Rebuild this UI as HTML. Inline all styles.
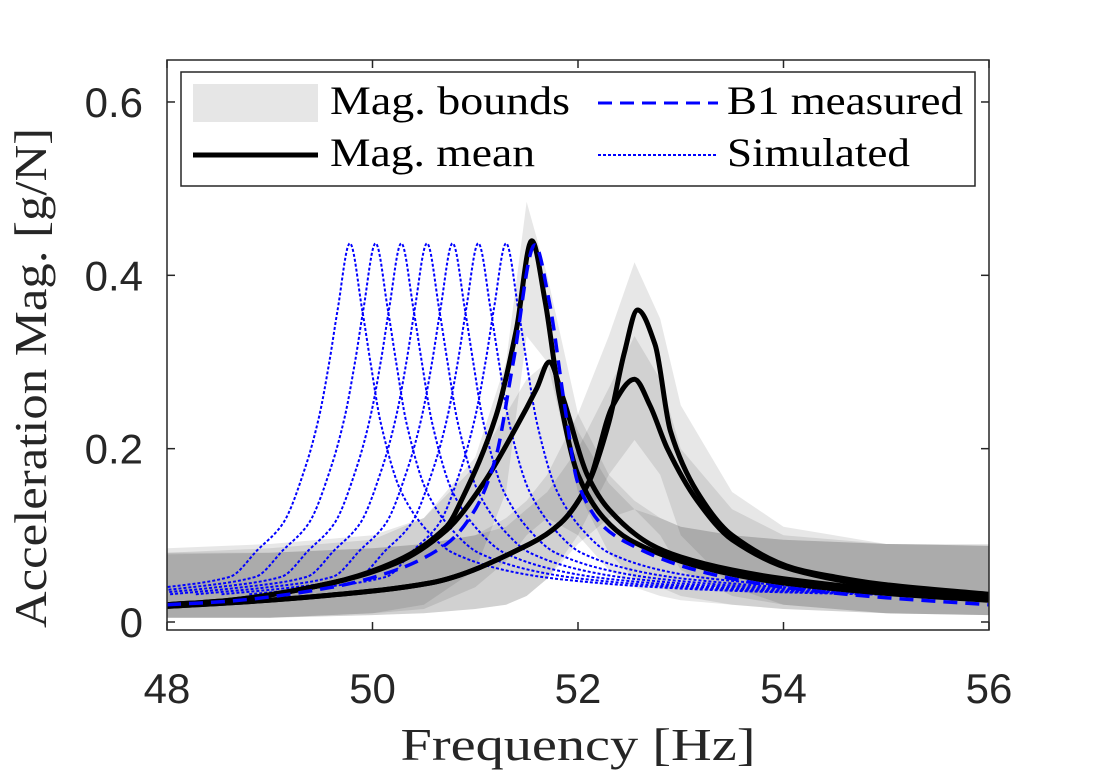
<!DOCTYPE html>
<html><head><meta charset="utf-8"><style>
body{margin:0;background:#fff}
svg{display:block}
</style></head><body>
<svg id="chart" width="1094" height="781" xmlns="http://www.w3.org/2000/svg">
<defs><clipPath id="plotclip"><rect x="167" y="60" width="822" height="570"/></clipPath></defs>
<rect width="1094" height="781" fill="#fff"/>
<g id="bands" clip-path="url(#plotclip)"></g>
<g id="lines" clip-path="url(#plotclip)"></g>
<g id="axes"></g>
<text x="578" y="760" text-anchor="middle" textLength="355" lengthAdjust="spacingAndGlyphs" font-family="Liberation Serif, serif" font-size="46" fill="#262626">Frequency [Hz]</text>
<text transform="translate(46,378) rotate(-90)" text-anchor="middle" textLength="500" lengthAdjust="spacingAndGlyphs" font-family="Liberation Serif, serif" font-size="46" fill="#262626">Acceleration Mag. [g/N]</text>
<g>
<rect x="181" y="72" width="794" height="114" fill="#fff" stroke="#262626" stroke-width="1.5"/>
<rect x="193" y="84" width="125" height="38" fill="#e6e6e6"/>
<text x="330" y="114" textLength="240" lengthAdjust="spacingAndGlyphs" font-family="Liberation Serif, serif" font-size="40" fill="#000">Mag. bounds</text>
<line x1="193" y1="155" x2="318" y2="155" stroke="#000" stroke-width="5"/>
<text x="330" y="166" textLength="205" lengthAdjust="spacingAndGlyphs" font-family="Liberation Serif, serif" font-size="40" fill="#000">Mag. mean</text>
<line x1="598" y1="103" x2="718" y2="103" stroke="#0000ff" stroke-width="3" stroke-dasharray="14 8"/>
<text x="727" y="114" textLength="236" lengthAdjust="spacingAndGlyphs" font-family="Liberation Serif, serif" font-size="40" fill="#000">B1 measured</text>
<line x1="598" y1="155" x2="718" y2="155" stroke="#0000ff" stroke-width="2" stroke-dasharray="3 2"/>
<text x="727" y="166" textLength="183" lengthAdjust="spacingAndGlyphs" font-family="Liberation Serif, serif" font-size="40" fill="#000">Simulated</text>
</g>
</svg>
<script>
const xTicks=[48,50,52,54,56];
const yTicks=[0,0.2,0.4,0.6];
const yTickLabels=["0","0.2","0.4","0.6"];
const bandFreq=[48,49,50,50.5,51,51.3,51.5,51.7,52,52.3,52.55,52.8,53,53.5,54,55,56];
const bandAUpper=[0.085,0.09,0.1,0.12,0.19,0.3,0.485,0.4,0.24,0.17,0.14,0.12,0.11,0.1,0.095,0.09,0.09];
const bandALower=[0.005,0.005,0.01,0.02,0.06,0.15,0.33,0.3,0.15,0.08,0.05,0.04,0.03,0.02,0.015,0.01,0.008];
const bandBUpper=[0.08,0.085,0.095,0.12,0.18,0.24,0.28,0.3,0.22,0.16,0.13,0.12,0.11,0.1,0.095,0.09,0.088];
const bandBLower=[0.005,0.005,0.01,0.015,0.04,0.07,0.1,0.12,0.1,0.06,0.04,0.03,0.025,0.02,0.015,0.01,0.008];
const bandCUpper=[0.08,0.08,0.085,0.09,0.1,0.12,0.14,0.17,0.24,0.33,0.415,0.35,0.25,0.15,0.11,0.09,0.088];
const bandCLower=[0.005,0.005,0.008,0.01,0.015,0.02,0.03,0.05,0.1,0.17,0.21,0.17,0.1,0.04,0.02,0.01,0.008];
const bandDUpper=[0.078,0.08,0.085,0.09,0.1,0.11,0.13,0.15,0.2,0.27,0.33,0.28,0.2,0.13,0.1,0.09,0.088];
const bandDLower=[0.005,0.005,0.008,0.01,0.015,0.02,0.03,0.05,0.09,0.12,0.13,0.1,0.06,0.03,0.02,0.01,0.008];
const meanAFreq=[48,48.6,49.6,50.23,50.72,50.88,51.2,51.4,51.55,51.68,51.82,52,52.25,52.5,53,53.5,54,55,56];
const meanAVal=[0.02,0.025,0.045,0.07,0.11,0.144,0.237,0.337,0.44,0.37,0.26,0.17,0.12,0.095,0.07,0.055,0.045,0.033,0.025];
const meanBFreq=[48,48.6,49.6,50.23,50.72,51.08,51.4,51.6,51.72,51.85,52.09,52.3,52.7,53,53.5,54,55,56];
const meanBVal=[0.02,0.025,0.045,0.068,0.106,0.16,0.225,0.27,0.30,0.26,0.17,0.13,0.09,0.075,0.06,0.05,0.037,0.03];
const meanCFreq=[48,48.6,49.5,50.56,51.53,51.83,52.1,52.3,52.45,52.58,52.75,52.9,53.16,53.5,54.1,54.5,55,56];
const meanCVal=[0.018,0.022,0.03,0.045,0.09,0.114,0.16,0.23,0.31,0.36,0.32,0.22,0.15,0.1,0.062,0.052,0.043,0.032];
const meanDFreq=[48,48.6,49.5,50.56,51.53,51.83,52.1,52.34,52.55,52.7,52.87,53.16,53.5,54.1,55,56];
const meanDVal=[0.018,0.022,0.03,0.045,0.09,0.114,0.16,0.25,0.28,0.25,0.2,0.14,0.095,0.06,0.04,0.03];
const b1Freq=[48,48.6,49.6,50.23,50.72,51,51.2,51.37,51.58,51.72,51.87,52,52.25,52.5,53,53.5,54,55,56];
const b1Val=[0.02,0.024,0.04,0.06,0.09,0.13,0.19,0.3,0.435,0.37,0.25,0.16,0.11,0.09,0.065,0.05,0.04,0.028,0.02];
const simPeakFreqs=[49.78,50.03,50.28,50.53,50.78,51.03,51.3];
const simOffsets=[-2.5,-1.8,-1.17,-0.9,-0.65,-0.43,-0.3,-0.2,-0.12,0,0.12,0.2,0.3,0.5,0.77,1,1.5,2,3,4,6,8];
const simValues=[0.032,0.04,0.052,0.083,0.114,0.18,0.237,0.3,0.36,0.437,0.36,0.3,0.23,0.15,0.103,0.08,0.06,0.05,0.04,0.035,0.03,0.028];

const NS="http://www.w3.org/2000/svg";
const X0=167,X1=989,Y0=622,YPX=866.7;
function xs(f){return X0+(f-48)*(X1-X0)/8;}
function ys(v){return Y0-v*YPX;}
function mk(tag,attrs,parent){const e=document.createElementNS(NS,tag);for(const k in attrs)e.setAttribute(k,attrs[k]);parent.appendChild(e);return e;}
function spline(px,py){
  const n=px.length,d=[],m=[];
  for(let i=0;i<n-1;i++)d.push((py[i+1]-py[i])/(px[i+1]-px[i]));
  m[0]=d[0];m[n-1]=d[n-2];
  for(let i=1;i<n-1;i++)m[i]=(d[i-1]*d[i]<=0)?0:2/(1/d[i-1]+1/d[i]);
  let s="M"+px[0].toFixed(1)+","+py[0].toFixed(1);
  for(let i=0;i<n-1;i++){const h=px[i+1]-px[i];
    s+="C"+(px[i]+h/3).toFixed(1)+","+(py[i]+m[i]*h/3).toFixed(1)+" "+(px[i+1]-h/3).toFixed(1)+","+(py[i+1]-m[i+1]*h/3).toFixed(1)+" "+px[i+1].toFixed(1)+","+py[i+1].toFixed(1);}
  return s;
}
const bandsG=document.getElementById('bands');
[[bandAUpper,bandALower],[bandBUpper,bandBLower],[bandCUpper,bandCLower],[bandDUpper,bandDLower]].forEach((b,i)=>{
  const up=bandFreq.map((f,j)=>xs(f)+","+ys(b[0][j]).toFixed(1));
  const lo=bandFreq.map((f,j)=>xs(f)+","+ys(b[1][j]).toFixed(1)).reverse();
  const p=mk('polygon',{points:up.concat(lo).join(" "),fill:"#000","fill-opacity":"0.095"},bandsG);
  
  
});
const linesG=document.getElementById('lines');
simPeakFreqs.forEach((pf,i)=>{
  const p=mk('path',{d:spline(simOffsets.map(o=>xs(pf+o)),simValues.map(ys)),fill:"none",stroke:"#0000ff","stroke-width":"2","stroke-dasharray":"3 2"},linesG);
  
  
});
[[meanAFreq,meanAVal],[meanBFreq,meanBVal],[meanCFreq,meanCVal],[meanDFreq,meanDVal]].forEach((c,i)=>{
  const p=mk('path',{d:spline(c[0].map(xs),c[1].map(ys)),fill:"none",stroke:"#000","stroke-width":"5","stroke-linejoin":"round"},linesG);
  
  
});
const b1=mk('path',{d:spline(b1Freq.map(xs),b1Val.map(ys)),fill:"none",stroke:"#0000ff","stroke-width":"3.5","stroke-dasharray":"14 8"},linesG);



const ax=document.getElementById('axes');
const box=mk('rect',{x:X0,y:60,width:X1-X0,height:570,fill:"none",stroke:"#262626","stroke-width":"1.5"},ax);


xTicks.forEach(t=>{
  mk('line',{x1:xs(t),x2:xs(t),y1:630,y2:622,stroke:"#262626","stroke-width":"1.5"},ax);
  mk('line',{x1:xs(t),x2:xs(t),y1:60,y2:68,stroke:"#262626","stroke-width":"1.5"},ax);
  const tx=mk('text',{x:xs(t),y:703,"text-anchor":"middle","font-family":"Liberation Sans, sans-serif","font-size":"42",fill:"#262626"},ax);
  tx.textContent=t;
  
  
});
yTicks.forEach((t,i)=>{
  mk('line',{x1:X0,x2:X0+8,y1:ys(t),y2:ys(t),stroke:"#262626","stroke-width":"1.5"},ax);
  mk('line',{x1:X1,x2:X1-8,y1:ys(t),y2:ys(t),stroke:"#262626","stroke-width":"1.5"},ax);
  const tx=mk('text',{x:143,y:ys(t)+15,"text-anchor":"end","font-family":"Liberation Sans, sans-serif","font-size":"42",fill:"#262626"},ax);
  tx.textContent=yTickLabels[i];
  
  
});
</script>
</body></html>
